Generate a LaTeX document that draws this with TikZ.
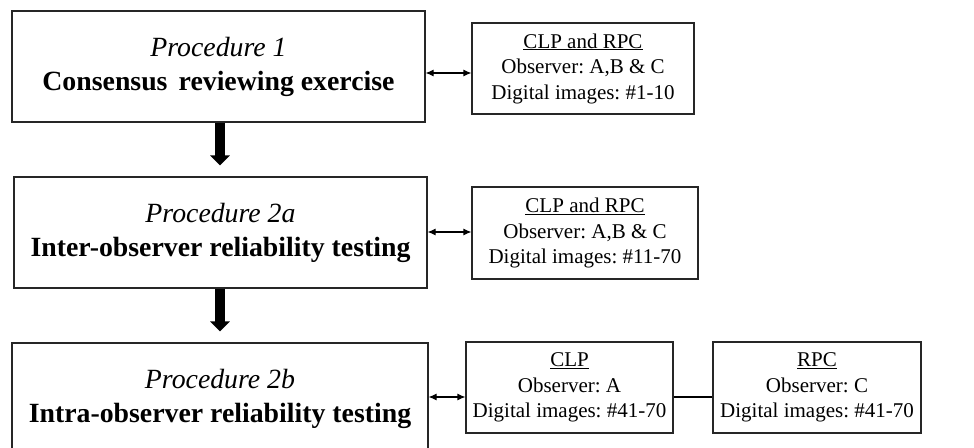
\documentclass[tikz,border=0pt]{standalone}
\usepackage{fontspec}
\setmainfont{Liberation Serif}
\usetikzlibrary{arrows.meta,calc}
\newcommand{\wsp}{\hspace{0.25em}}
\frenchspacing
\begin{document}
\begin{tikzpicture}[x=1pt,y=-1pt,
  mainbox/.style={draw=black!85,line width=1.1pt,minimum height=111pt,align=center,inner sep=0pt,
    font=\fontsize{27.8}{34}\selectfont},
  sidebox/.style={draw=black!85,line width=1.1pt,minimum height=91pt,align=center,inner sep=0pt,
    font=\fontsize{21}{25.5}\selectfont\frenchspacing},
  link/.style={line width=1.1pt,{Latex[length=8pt,width=7pt]}-{Latex[length=8pt,width=7pt]}},
  flow/.style={line width=10pt,-{Triangle[length=10pt 0,width=19pt 0]}},
  plain/.style={line width=1.1pt}]
\clip (0,0) rectangle (974,447);
\fill[white] (0,0) rectangle (974,447);
% main boxes
\node[mainbox,minimum width=413pt] (m1) at (218.5,66.5) {\textit{Procedure 1}\\\textbf{Consensus\hspace{0.4em}reviewing exercise}};
\node[mainbox,minimum width=413pt] (m2) at (220.5,232.5) {\textit{Procedure 2a}\\\textbf{Inter-observer reliability testing}};
\node[mainbox,minimum width=416pt] (m3) at (220,398.5) {\textit{Procedure 2b}\\\textbf{Intra-observer reliability testing}};
% side boxes
\node[sidebox,minimum width=222pt] (s1) at (583,68.5) {\underline{CLP and RPC}\\Observer: A,B \& C\\Digital\wsp images:\wsp\#1-10};
\node[sidebox,minimum width=226pt,minimum height=92pt] (s2) at (585,233) {\underline{CLP and RPC}\\Observer: A,B \& C\\Digital\wsp images:\wsp\#11-70};
\node[sidebox,minimum width=207pt] (s3) at (569.5,387.5) {\underline{CLP}\\Observer: A\\Digital\wsp images:\wsp\#41-70};
\node[sidebox,minimum width=208pt] (s4) at (817,387.5) {\underline{RPC}\\Observer: C\\Digital\wsp images:\wsp\#41-70};
% helper coordinates
\coordinate (y1) at (0,73);
\coordinate (y2) at (0,232);
\coordinate (y3) at (0,397);
\coordinate (fx) at (220,0);
% links
\draw[link] (m1.east|-y1) -- (s1.west|-y1);
\draw[link] (m2.east|-y2) -- (s2.west|-y2);
\draw[link] (m3.east|-y3) -- (s3.west|-y3);
\draw[plain] (s3.east|-y3) -- (s4.west|-y3);
% flow arrows
\draw[flow,shorten >=11pt] (fx|-m1.south) -- (fx|-m2.north);
\draw[flow,shorten >=11pt] (fx|-m2.south) -- (fx|-m3.north);
\end{tikzpicture}
\end{document}
